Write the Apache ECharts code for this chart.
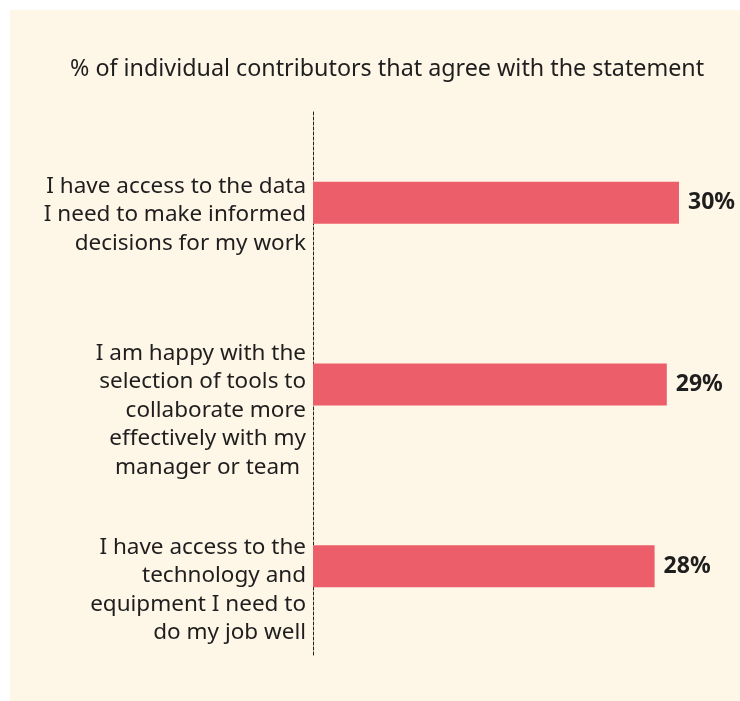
<!DOCTYPE html>
<html>
<head>
<meta charset="utf-8">
<script src="https://cdn.jsdelivr.net/npm/echarts@6/dist/echarts.min.js"></script>
<style>
  html, body { margin: 0; padding: 0; background: #ffffff; overflow: hidden; }
  #chart { position: absolute; left: 10px; top: 10px; width: 730px; height: 691px; }
</style>
</head>
<body>
<div id="chart"></div>
<script>
// statements, top to bottom
var statements = [
  'I have access to the data\nI need to make informed\ndecisions for my work',
  'I am happy with the\nselection of tools to\ncollaborate more\neffectively with my\nmanager or team ',
  'I have access to the\ntechnology and\nequipment I need to\ndo my job well'
];
var agreePct = [30, 29, 28];
var titleText = '% of individual contributors that agree with the statement';

// labels in the original sit a bit below their bar (px)
var labelDrop = [12, 26, 24];

// an invisible spacer line on top pushes each label block down
var spacers = {};
labelDrop.forEach(function (d, i) {
  spacers['sp' + i] = { fontSize: 1, lineHeight: d * 2 };
});

var chart = echarts.init(document.getElementById('chart'));

chart.setOption({
  backgroundColor: '#fef6e7',
  animation: false,
  title: {
    text: titleText,
    left: 55,
    top: 43,
    textStyle: {
      fontFamily: 'Noto Sans',
      fontSize: 23.3,
      fontWeight: 'normal',
      color: '#1e1e1e'
    }
  },
  grid: { left: 303, right: 0, top: 102, bottom: 44 },
  xAxis: {
    type: 'value',
    min: 0,
    max: 35,
    show: false
  },
  yAxis: {
    type: 'category',
    inverse: true,
    data: statements,
    axisLine: { show: true, lineStyle: { color: '#222', type: [3, 2], width: 1 } },
    axisTick: { show: false },
    axisLabel: {
      margin: 7,
      fontFamily: 'Noto Sans',
      fontSize: 22.5,
      lineHeight: 28.5,
      color: '#1e1e1e',
      align: 'right',
      formatter: function (value, idx) {
        return '{sp' + idx + '| }\n' + value;
      },
      rich: spacers
    }
  },
  series: [{
    type: 'bar',
    data: agreePct,
    barWidth: 42,
    itemStyle: { color: '#ec5f6a' },
    label: {
      show: true,
      position: 'right',
      distance: 9,
      formatter: '{c}%',
      fontFamily: 'Noto Sans',
      fontSize: 23,
      fontWeight: 'bold',
      color: '#1e1e1e'
    }
  }]
});
</script>
</body>
</html>
